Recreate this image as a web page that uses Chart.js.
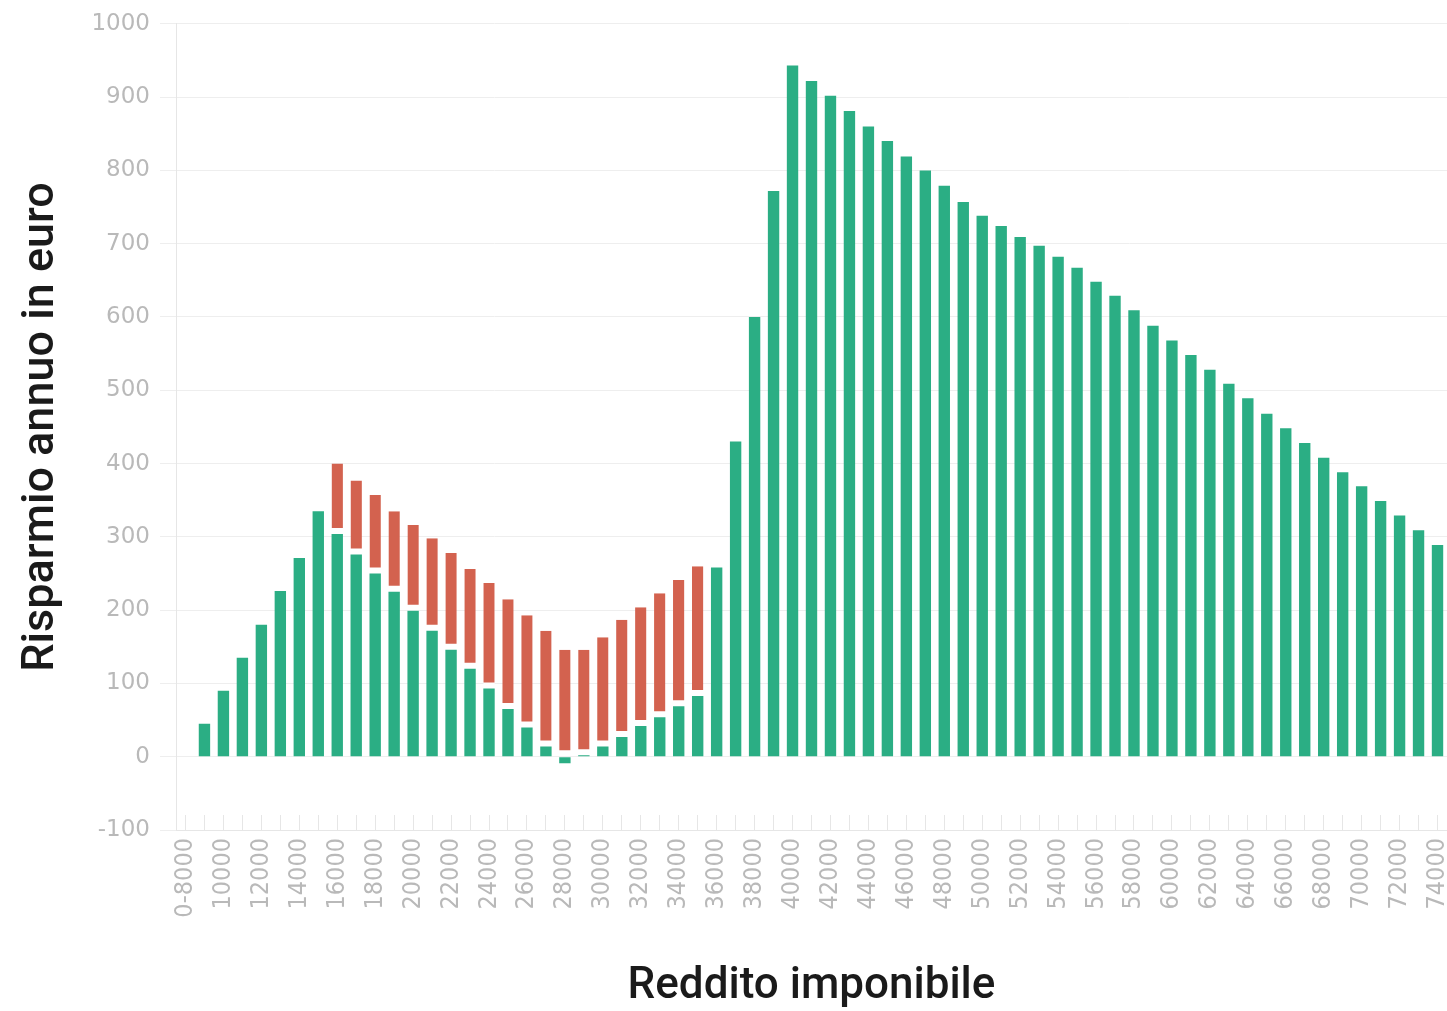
<!DOCTYPE html>
<html>
<head>
<meta charset="utf-8">
<script src="https://cdn.jsdelivr.net/npm/chart.js@4/dist/chart.umd.min.js"></script>
<style>
  body { margin: 0; background: #fff; }
</style>
</head>
<body>
<canvas id="savingsChart" width="1447" height="1011"></canvas>
<script>
// Income brackets (one bar every 1000 euro)
const categories = [
    '0-8000', '9000', '10000', '11000', '12000', '13000', '14000', '15000', '16000', '17000',
    '18000', '19000', '20000', '21000', '22000', '23000', '24000', '25000', '26000', '27000',
    '28000', '29000', '30000', '31000', '32000', '33000', '34000', '35000', '36000', '37000',
    '38000', '39000', '40000', '41000', '42000', '43000', '44000', '45000', '46000', '47000',
    '48000', '49000', '50000', '51000', '52000', '53000', '54000', '55000', '56000', '57000',
    '58000', '59000', '60000', '61000', '62000', '63000', '64000', '65000', '66000', '67000',
    '68000', '69000', '70000', '71000', '72000', '73000', '74000'
];

// Green part of each bar
const savingsBase = [
    null, 45, 90, 135, 180, 226, 271, 335, 304, 276,
    250, 225, 199, 172, 146, 120, 93, 65, 40, 14,
    -9, 2, 14, 27, 42, 54, 69, 83, 258, 430,
    600, 772, 943, 922, 902, 881, 860, 840, 819, 800,
    779, 757, 738, 724, 709, 697, 682, 667, 648, 629,
    609, 588, 568, 548, 528, 509, 489, 468, 448, 428,
    408, 388, 369, 349, 329, 309, 289
];

// Red part stacked on top (16000 - 35000)
const savingsExtra = [
    null, null, null, null, null, null, null, null, 96, 101,
    107, 110, 117, 126, 132, 136, 144, 150, 153, 158,
    146, 144, 149, 160, 162, 169, 172, 177, null, null,
    null, null, null, null, null, null, null, null, null, null,
    null, null, null, null, null, null, null, null, null, null,
    null, null, null, null, null, null, null, null, null, null,
    null, null, null, null, null, null, null
];

const yTicks = { min: -100, max: 1000, step: 100 };

const ctx = document.getElementById('savingsChart').getContext('2d');

new Chart(ctx, {
    type: 'bar',
    data: {
        labels: categories,
        datasets: [
            {
                label: 'Risparmio',
                data: savingsBase,
                backgroundColor: '#2bae84',
                borderWidth: 0,
                barPercentage: 0.6,
                categoryPercentage: 1,
            },
            {
                label: 'Extra',
                data: savingsExtra,
                backgroundColor: '#d3624f',
                borderColor: '#ffffff',
                borderWidth: { top: 0, left: 0, right: 0, bottom: 6 },
                borderSkipped: false,
                barPercentage: 0.6,
                categoryPercentage: 1,
            },
        ],
    },
    options: {
        responsive: false,
        animation: false,
        layout: { padding: { top: 22, right: 0, bottom: 0, left: 0 } },
        plugins: {
            legend: { display: false },
            tooltip: { enabled: false },
        },
        scales: {
            x: {
                stacked: true,
                grid: {
                    offset: false,
                    drawOnChartArea: false,
                    drawTicks: true,
                    tickLength: -15,
                    color: '#e6e6e6',
                },
                border: { color: '#e6e6e6' },
                ticks: {
                    autoSkip: false,
                    minRotation: 90,
                    maxRotation: 90,
                    padding: 23,
                    color: '#b9b9b9',
                    font: { family: '"Liberation Sans Narrow", "DejaVu Sans Condensed", sans-serif', size: 25 },
                    callback: (value, index) => index % 2 === 0 ? categories[index] : '',
                },
                title: {
                    display: true,
                    text: 'Reddito imponibile',
                    color: '#1a1a1a',
                    font: { family: 'Roboto', size: 44, weight: '500', lineHeight: 1.1 },
                    padding: { top: 0, bottom: 0 },
                },
                afterFit: scale => {
                    scale.height = 181;
                    scale.paddingLeft = 0;
                    scale.paddingRight = 0;
                },
            },
            y: {
                stacked: true,
                min: yTicks.min,
                max: yTicks.max,
                grid: {
                    color: '#eeeeee',
                    tickLength: 16,
                },
                border: { color: '#e6e6e6' },
                ticks: {
                    stepSize: yTicks.step,
                    padding: 10,
                    color: '#b9b9b9',
                    font: { family: '"DejaVu Sans", sans-serif', size: 23 },
                    callback: value => String(value),
                },
                title: {
                    display: true,
                    text: 'Risparmio annuo in euro',
                    color: '#1a1a1a',
                    font: { family: 'Roboto', size: 45, weight: '500', lineHeight: 1.2 },
                    padding: { top: 15, bottom: 0 },
                },
                afterFit: scale => {
                    scale.width = 176;
                },
            },
        },
    },
});
</script>
</body>
</html>
